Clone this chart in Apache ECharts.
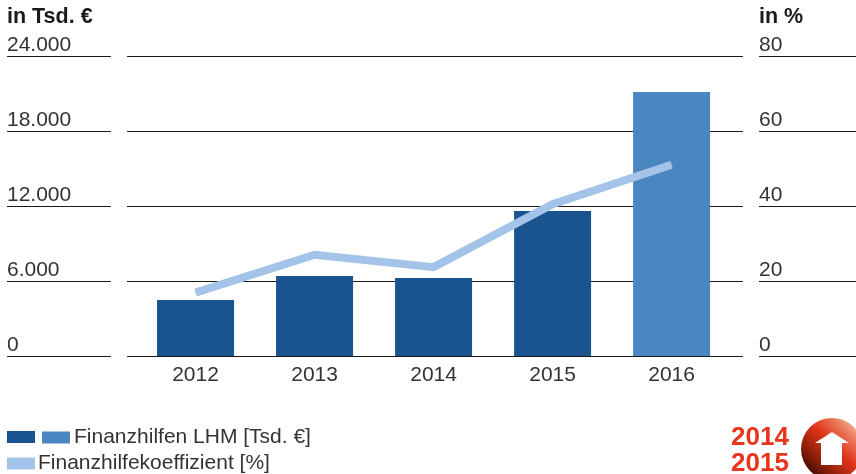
<!DOCTYPE html>
<html>
<head>
<meta charset="utf-8">
<style>
html, body { margin: 0; padding: 0; background: #fff; }
#chart { width: 856px; height: 474px; }
</style>
<script src="https://cdn.jsdelivr.net/npm/echarts@6/dist/echarts.min.js"></script>
</head>
<body>
<div id="chart"></div>
<script>
var years = [2012, 2013, 2014, 2015, 2016];
var hilfenDunkel = [4480, 6400, 6240, 11600, null];
var hilfenHell = [null, null, null, null, 21120];
var koeffizient = [16.9, 27, 23.7, 40.5, 51];
var ticksEuro = ['0', '6.000', '12.000', '18.000', '24.000'];
var ticksProzent = ['0', '20', '40', '60', '80'];

var font = '"Liberation Sans", sans-serif';
var textColor = '#333';

function pairs(values) {
	return years.map(function(y, i) { return [y, values[i]]; });
}

// gleiche Linien fuer alle drei Bloecke
function valueAxis(index, max, interval, labels, show) {
	return {
		type: 'value',
		gridIndex: index,
		min: 0,
		max: max,
		interval: interval,
		axisLine: { show: false },
		axisTick: { show: false },
		splitLine: { show: true, lineStyle: { color: '#1a1a1a', width: 1 } },
		axisLabel: {
			show: show,
			inside: true,
			margin: 0,
			align: 'left',
			verticalAlign: 'bottom',
			padding: [0, 0, 0, 0],
			fontFamily: font,
			fontSize: 21,
			color: textColor,
			formatter: function(v) { return labels[Math.round(v / interval)]; }
		}
	};
}

function hiddenX(index) {
	return { type: 'value', gridIndex: index, min: 0, max: 1, show: false };
}

var myChart = echarts.init(document.getElementById('chart'));
var option = {
	animation: false,
	backgroundColor: '#fff',
	textStyle: { fontFamily: font },
	grid: [
		{ left: 7, width: 104, top: 56, height: 300 },
		{ left: 127, width: 616, top: 56, height: 300 },
		{ left: 759, width: 97, top: 56, height: 300 }
	],
	xAxis: [
		hiddenX(0),
		{
			type: 'value',
			gridIndex: 1,
			min: 2011.424,
			max: 2016.6,
			axisLine: { show: false },
			axisTick: { show: false },
			splitLine: { show: false },
			axisLabel: {
				customValues: years,
				margin: 9,
				fontFamily: font,
				fontSize: 21,
				color: textColor,
				formatter: function(v) { return String(v); }
			}
		},
		hiddenX(2)
	],
	yAxis: [
		valueAxis(0, 24000, 6000, ticksEuro, true),
		valueAxis(1, 24000, 6000, ticksEuro, false),
		valueAxis(2, 80, 20, ticksProzent, true),
		{ type: 'value', gridIndex: 1, min: 0, max: 80, interval: 20, show: false }
	],
	legend: [
		{
			data: ['Finanzhilfen 2012-2015'],
			left: 2, top: 426,
			icon: 'rect',
			itemWidth: 28, itemHeight: 12,
			formatter: function() { return ''; },
			textStyle: { fontSize: 1 }
		},
		{
			data: ['Finanzhilfen LHM [Tsd. €]'],
			left: 37, top: 422,
			icon: 'rect',
			itemWidth: 28, itemHeight: 12,
			textStyle: { fontFamily: font, fontSize: 21, color: textColor, padding: [0, 0, 0, -1] }
		},
		{
			data: ['Finanzhilfekoeffizient [%]'],
			left: 2, top: 448,
			icon: 'rect',
			itemWidth: 28, itemHeight: 12,
			textStyle: { fontFamily: font, fontSize: 21, color: textColor, padding: [0, 0, 0, -2] }
		}
	],
	series: [
		{
			name: 'Finanzhilfen 2012-2015',
			type: 'bar',
			xAxisIndex: 1,
			yAxisIndex: 1,
			stack: 'hilfen',
			barWidth: 77,
			itemStyle: { color: '#19548f' },
			data: pairs(hilfenDunkel)
		},
		{
			name: 'Finanzhilfen LHM [Tsd. €]',
			type: 'bar',
			xAxisIndex: 1,
			yAxisIndex: 1,
			stack: 'hilfen',
			barWidth: 77,
			itemStyle: { color: '#4a86bf' },
			data: pairs(hilfenHell)
		},
		{
			name: 'Finanzhilfekoeffizient [%]',
			type: 'line',
			xAxisIndex: 1,
			yAxisIndex: 3,
			symbol: 'none',
			z: 5,
			itemStyle: { color: '#a3c4e8' },
			lineStyle: { color: '#a3c4e8', width: 8, cap: 'butt', join: 'miter' },
			data: pairs(koeffizient)
		}
	],
	graphic: [
		{
			type: 'text', left: 7, top: 6,
			style: { text: 'in Tsd. €', fontFamily: font, fontSize: 21.5, fontWeight: 'bold', fill: '#1a1a1a' }
		},
		{
			type: 'text', left: 759, top: 6,
			style: { text: 'in %', fontFamily: font, fontSize: 21.5, fontWeight: 'bold', fill: '#1a1a1a' }
		},
		{
			type: 'text', left: 731, top: 425,
			style: { text: '2014', fontFamily: font, fontSize: 26, fontWeight: 'bold', fill: '#e8361e' }
		},
		{
			type: 'text', left: 731, top: 451,
			style: { text: '2015', fontFamily: font, fontSize: 26, fontWeight: 'bold', fill: '#e8361e' }
		},
		{
			type: 'circle',
			shape: { cx: 832, cy: 449, r: 31 },
			style: {
				fill: new echarts.graphic.LinearGradient(0.1, 0.95, 0.95, 0.1, [
					{ offset: 0, color: '#2a0600' },
					{ offset: 0.25, color: '#8a1e08' },
					{ offset: 0.55, color: '#e0341a' },
					{ offset: 0.8, color: '#ea7a5a' },
					{ offset: 1, color: '#f3c6a8' }
				])
			}
		},
		{
			type: 'polygon',
			shape: { points: [[832, 432], [849, 443], [842, 443], [842, 465], [821, 465], [821, 443], [815, 443]] },
			style: { fill: '#fff' }
		}
	]
};
myChart.setOption(option);
</script>
</body>
</html>
